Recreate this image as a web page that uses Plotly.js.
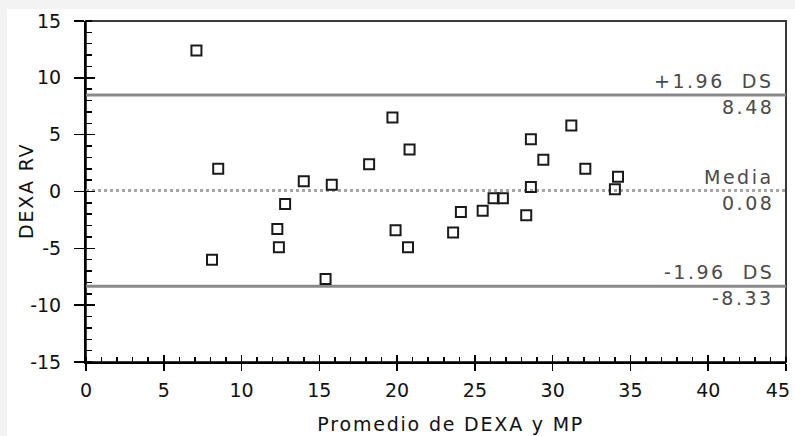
<!DOCTYPE html>
<html>
<head>
<meta charset="utf-8">
<script src="https://cdn.plot.ly/plotly-3.0.1.min.js"></script>
<style>
  html, body { margin: 0; padding: 0; background: #f3f3f3; width: 795px; height: 436px; overflow: hidden; }
  #chart { position: absolute; left: 7px; top: 9px; width: 788px; height: 427px; background: #ffffff; }
  .annotation-text { letter-spacing: 2.5px; }
  .axtitle .annotation-text { letter-spacing: 1.8px; }
</style>
</head>
<body>
<div id="chart"></div>
<script>
// Promedio de DEXA y MP (x) vs diferencia DEXA - RV (y)
const promedio = [7.1, 8.5, 8.1, 12.3, 12.4, 12.8, 14.0, 15.4, 15.8, 18.2, 19.7, 19.9, 20.8, 20.7,
                  23.6, 24.1, 25.5, 26.2, 26.8, 28.3, 28.6, 28.6, 29.4, 31.2, 32.1, 34.2, 34.0];
const diferencia = [12.4, 2.0, -6.0, -3.3, -4.9, -1.1, 0.9, -7.7, 0.6, 2.4, 6.5, -3.4, 3.7, -4.9,
                    -3.6, -1.8, -1.7, -0.6, -0.6, -2.1, 0.4, 4.6, 2.8, 5.8, 2.0, 1.3, 0.2];
const media = 0.08;
const limiteSup = 8.48;
const limiteInf = -8.33;
const etiquetaSup = "+1.96  DS";
const etiquetaMedia = "Media";
const etiquetaInf = "-1.96  DS";
const xTickVals = [0, 5, 10, 15, 20, 25, 30, 35, 40, 45];
const xTickText = ["0", "5", "10", "15", "20", "25", "30", "35", "40", "45"];
const yTickVals = [-15, -10, -5, 0, 5, 10, 15];
const yTickText = ["-15", "-10", "-5", "0", "5", "10", "15"];
const xRange = [0, 45];
const yRange = [-15, 15];

const font = "DejaVu Sans, Verdana, sans-serif";

const traces = [
  {
    x: promedio, y: diferencia, type: "scatter", mode: "markers",
    marker: { symbol: "square-open", size: 10, color: "#1a1a1a", line: { width: 2, color: "#1a1a1a" } },
    hoverinfo: "x+y", showlegend: false
  },
  { x: [null], y: [null], xaxis: "x2", yaxis: "y2", type: "scatter", mode: "markers", showlegend: false, hoverinfo: "skip" }
];

function hline(v, dash, color) {
  return { type: "line", xref: "paper", x0: 0, x1: 1, yref: "y", y0: v, y1: v,
           line: { color: color, width: 3, dash: dash }, layer: "below" };
}

function label(text, v, shift) {
  return { xref: "paper", x: 1, xanchor: "right", xshift: -10, yref: "y", y: v, yanchor: "middle",
           yshift: shift, text: text, showarrow: false, font: { family: font, size: 19, color: "#4a4a4a" } };
}

const axisCommon = {
  showgrid: false, zeroline: false, showline: true, linecolor: "#000", linewidth: 2,
  tickcolor: "#000", tickwidth: 1.5, tickfont: { family: font, size: 19, color: "#111" },
  tickmode: "array", ticklabeloverflow: "allow"
};

const layout = {
  width: 788, height: 427,
  margin: { l: 79, r: 9, t: 12, b: 74 },
  paper_bgcolor: "#ffffff", plot_bgcolor: "#ffffff",
  xaxis: Object.assign({}, axisCommon, {
    range: xRange, tickvals: xTickVals, ticktext: xTickText, ticks: "outside", ticklen: 7, ticklabelstandoff: 3,
    minor: { tickmode: "linear", tick0: 0, dtick: 1, ticks: "inside", ticklen: 5, tickcolor: "#000", tickwidth: 1.5 }
  }),
  xaxis2: { overlaying: "x", anchor: "y", side: "bottom", range: xRange, dtick: 5, tick0: 0,
            ticks: "inside", ticklen: 7, tickcolor: "#000", tickwidth: 1.5,
            showticklabels: false, showgrid: false, zeroline: false, showline: false },
  yaxis: Object.assign({}, axisCommon, {
    range: yRange, tickvals: yTickVals, ticktext: yTickText, ticks: "outside", ticklen: 10, ticklabelstandoff: 9,
    minor: { tickmode: "linear", tick0: 0, dtick: 1, ticks: "inside", ticklen: 6, tickcolor: "#000", tickwidth: 1.5 }
  }),
  yaxis2: { overlaying: "y", anchor: "x", side: "left", range: yRange, dtick: 5, tick0: 0,
            ticks: "inside", ticklen: 9, tickcolor: "#000", tickwidth: 1.5,
            showticklabels: false, showgrid: false, zeroline: false, showline: false },
  shapes: [
    { type: "rect", xref: "paper", yref: "paper", x0: 0, x1: 1, y0: 0, y1: 1,
      line: { color: "#3a3a3a", width: 2 }, layer: "below" },
    hline(limiteSup, "solid", "#8a8a8a"),
    hline(media, "dot", "#a6a6a6"),
    hline(limiteInf, "solid", "#8a8a8a")
  ],
  annotations: [
    label(etiquetaSup, limiteSup, 14),
    label(limiteSup.toFixed(2), limiteSup, -12),
    label(etiquetaMedia, media, 14),
    label(media.toFixed(2), media, -12),
    label(etiquetaInf, limiteInf, 14),
    label(limiteInf.toFixed(2), limiteInf, -12),
    { xref: "paper", yref: "paper", x: 0.52, y: 0, xanchor: "center", yanchor: "middle", yshift: -62,
      text: "Promedio de DEXA y MP", showarrow: false,
      font: { family: font, size: 19, color: "#111" } },
    { xref: "paper", yref: "paper", x: 0, y: 0.5, xanchor: "center", yanchor: "middle", xshift: -61,
      textangle: -90, text: "DEXA RV", showarrow: false,
      font: { family: font, size: 19, color: "#111" } }
  ]
};

Plotly.newPlot("chart", traces, layout, { displayModeBar: false, staticPlot: true }).then(function () {
  const anns = document.querySelectorAll(".annotation");
  const n = anns.length;
  if (n >= 2) {
    anns[n - 1].classList.add("axtitle");
    anns[n - 2].classList.add("axtitle");
  }
  // keep the last x tick label inside the frame (right-aligned to its tick, as in the reference)
  const lastLabel = xTickText[xTickText.length - 1];
  document.querySelectorAll(".xaxislayer-above .xtick text").forEach(function (t) {
    if (t.textContent === lastLabel) {
      t.setAttribute("text-anchor", "end");
      t.style.textAnchor = "end";
      t.setAttribute("dx", "4");
    }
  });
});
</script>
</body>
</html>
